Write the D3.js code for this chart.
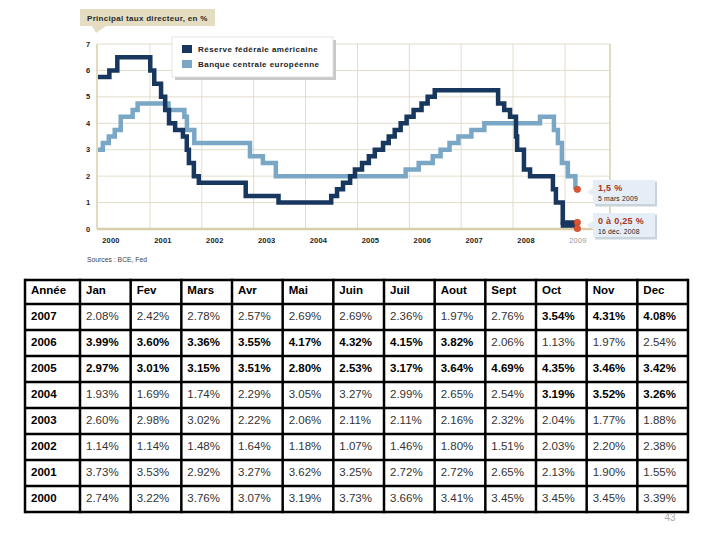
<!DOCTYPE html>
<html>
<head>
<meta charset="utf-8">
<script src="https://cdn.jsdelivr.net/npm/d3@7"></script>
<style>
  html, body { margin: 0; padding: 0; background: #fff; }
  svg { display: block; }
</style>
</head>
<body>
<svg id="chart" width="720" height="540"></svg>
<script>
// ---------- DATA ----------
const fedDates = ["2000-01-01","2000-02-02","2000-03-21","2000-05-16","2001-01-03","2001-01-31","2001-03-20","2001-04-18","2001-05-15","2001-06-27","2001-08-21","2001-09-17","2001-10-02","2001-11-06","2001-12-11","2002-11-06","2003-06-25","2004-06-30","2004-08-10","2004-09-21","2004-11-10","2004-12-14","2005-02-02","2005-03-22","2005-05-03","2005-06-30","2005-08-09","2005-09-20","2005-11-01","2005-12-13","2006-01-31","2006-03-28","2006-05-10","2006-06-29","2007-09-18","2007-10-31","2007-12-11","2008-01-22","2008-01-30","2008-03-18","2008-04-30","2008-10-08","2008-10-29","2008-12-16","2009-03-15"];
const fedRates = [5.75,5.75,6.0,6.5,6.0,5.5,5.0,4.5,4.0,3.75,3.5,3.0,2.5,2.0,1.75,1.25,1.0,1.25,1.5,1.75,2.0,2.25,2.5,2.75,3.0,3.25,3.5,3.75,4.0,4.25,4.5,4.75,5.0,5.25,4.75,4.5,4.25,3.5,3.0,2.25,2.0,1.5,1.0,0.25,0.25];

const ecbDates = ["2000-01-01","2000-02-04","2000-03-17","2000-04-28","2000-06-09","2000-09-01","2000-10-06","2001-05-11","2001-08-31","2001-09-18","2001-11-09","2002-12-06","2003-03-07","2003-06-06","2005-12-06","2006-03-08","2006-06-15","2006-08-09","2006-10-11","2006-12-13","2007-03-14","2007-06-13","2008-07-09","2008-10-15","2008-11-12","2008-12-10","2009-01-21","2009-03-15"];
const ecbRates = [3.0,3.25,3.5,3.75,4.25,4.5,4.75,4.5,4.25,3.75,3.25,2.75,2.5,2.0,2.25,2.5,2.75,3.0,3.25,3.5,3.75,4.0,4.25,3.75,3.25,2.5,2.0,1.5];

const yTicks = [0,1,2,3,4,5,6,7];
const yearTicks = [2000,2001,2002,2003,2004,2005,2006,2007,2008,2009];
const seriesNames = ["Réserve fédérale américaine","Banque centrale européenne"];

const tableYears = [2007,2006,2005,2004,2003,2002,2001,2000];
const tableMonths = ["Jan","Fev","Mars","Avr","Mai","Juin","Juil","Aout","Sept","Oct","Nov","Dec"];
const v2007 = [2.08,2.42,2.78,2.57,2.69,2.69,2.36,1.97,2.76,3.54,4.31,4.08];
const v2006 = [3.99,3.60,3.36,3.55,4.17,4.32,4.15,3.82,2.06,1.13,1.97,2.54];
const v2005 = [2.97,3.01,3.15,3.51,2.80,2.53,3.17,3.64,4.69,4.35,3.46,3.42];
const v2004 = [1.93,1.69,1.74,2.29,3.05,3.27,2.99,2.65,2.54,3.19,3.52,3.26];
const v2003 = [2.60,2.98,3.02,2.22,2.06,2.11,2.11,2.16,2.32,2.04,1.77,1.88];
const v2002 = [1.14,1.14,1.48,1.64,1.18,1.07,1.46,1.80,1.51,2.03,2.20,2.38];
const v2001 = [3.73,3.53,2.92,3.27,3.62,3.25,2.72,2.72,2.65,2.13,1.90,1.55];
const v2000 = [2.74,3.22,3.76,3.07,3.19,3.73,3.66,3.41,3.45,3.45,3.45,3.39];
const tableValues = [v2007,v2006,v2005,v2004,v2003,v2002,v2001,v2000];
const boldMonths = [[9,10,11],[0,1,2,3,4,5,6,7],[0,1,2,3,4,5,6,7,8,9,10,11],[9,10,11],[],[],[],[]];

// ---------- CHART ----------
const svg = d3.select("#chart");
const parse = d3.timeParse("%Y-%m-%d");
const L = 97, R = 610, T = 44, B = 229;
const x = d3.scaleTime().domain([parse("2000-01-01"), parse("2009-01-01")]).range([98, 565]);
const y = d3.scaleLinear().domain([0, 7]).range([B, T]);

const FED = "#17375f", ECB = "#7aa7c6", GRID = "#e2ddca", AXIS = "#d8cfaa";
const FONT = "Liberation Sans, Arial, sans-serif";

// title box
svg.append("rect").attr("x", 80).attr("y", 9).attr("width", 135).attr("height", 17).attr("fill", "#e5ddc2");
svg.append("path").attr("d", "M92,26 L106,26 L96,33 Z").attr("fill", "#e5ddc2");
svg.append("text").attr("x", 87).attr("y", 20.5).text("Principal taux directeur, en %")
  .attr("font-family", FONT).attr("font-size", 8).attr("font-weight", "bold")
  .attr("letter-spacing", 0.3).attr("fill", "#2a2a2a");

// gridlines
const g = svg.append("g");
g.selectAll(".hg").data(yTicks.filter(d => d > 0)).join("line")
  .attr("x1", L).attr("x2", R).attr("y1", d => y(d)).attr("y2", d => y(d))
  .attr("stroke", GRID).attr("stroke-width", 1);
g.selectAll(".vg").data(yearTicks.slice(1)).join("line")
  .attr("x1", d => x(new Date(d, 0, 1))).attr("x2", d => x(new Date(d, 0, 1)))
  .attr("y1", T).attr("y2", B).attr("stroke", GRID).attr("stroke-width", 1);
g.append("line").attr("x1", R).attr("x2", R).attr("y1", T).attr("y2", B).attr("stroke", AXIS).attr("stroke-width", 1.5);
g.append("line").attr("x1", L).attr("x2", L).attr("y1", T).attr("y2", B).attr("stroke", AXIS).attr("stroke-width", 1.5);

// y labels
svg.selectAll(".yl").data(yTicks).join("text")
  .attr("x", 88).attr("y", d => y(d) + 2.5).attr("text-anchor", "middle")
  .attr("font-family", FONT).attr("font-size", 7.5).attr("font-weight", "bold")
  .attr("fill", "#222").text(d => d);

// x labels
svg.selectAll(".xl").data(yearTicks).join("text")
  .attr("x", d => x(new Date(d, 0, 1)) + 13).attr("y", 243).attr("text-anchor", "middle")
  .attr("font-family", FONT).attr("font-size", 7.5)
  .attr("font-weight", d => d === 2009 ? "normal" : "bold")
  .attr("letter-spacing", 0.2)
  .attr("fill", d => d === 2009 ? "#999" : "#222").text(d => d);

// lines
const fedData = fedDates.map((d, i) => ({ t: parse(d), v: fedRates[i] }));
const ecbData = ecbDates.map((d, i) => ({ t: parse(d), v: ecbRates[i] }));
const line = d3.line().x(d => x(d.t)).y(d => y(d.v)).curve(d3.curveStepAfter);

svg.append("path").datum(ecbData).attr("d", line).attr("fill", "none")
  .attr("stroke", ECB).attr("stroke-width", 4.5).attr("stroke-linejoin", "miter");
svg.append("path").datum(fedData).attr("d", line).attr("fill", "none")
  .attr("stroke", FED).attr("stroke-width", 4.5).attr("stroke-linejoin", "miter");

// Fed 0 - 0.25 band
const bandStart = fedData[fedData.length - 2], bandEnd = fedData[fedData.length - 1];
svg.append("rect").attr("x", x(bandStart.t) - 2).attr("y", y(bandStart.v))
  .attr("width", x(bandEnd.t) - x(bandStart.t) + 2).attr("height", y(0) - y(bandStart.v)).attr("fill", FED);

// baseline axis
svg.append("line").attr("x1", L).attr("x2", R).attr("y1", B).attr("y2", B).attr("stroke", AXIS).attr("stroke-width", 2.5);

// end dots
const endT = bandEnd.t;
[ecbRates[ecbRates.length - 1], 0.25, 0.02].forEach(v => {
  svg.append("circle").attr("cx", x(endT) + 2).attr("cy", y(v)).attr("r", 3.2)
    .attr("fill", "#dd5530").attr("stroke", "#b73c1f").attr("stroke-width", 0.6);
});

// annotation callouts
function callout(y0, big, small) {
  const gg = svg.append("g");
  gg.append("rect").attr("x", 595).attr("y", y0 + 1.5).attr("width", 62).attr("height", 25).attr("fill", "#c9d3db");
  gg.append("path").attr("d", `M593,${y0} L655,${y0} L655,${y0 + 24} L593,${y0 + 24} L593,${y0 + 16} L587,${y0 + 12} L593,${y0 + 8} Z`)
    .attr("fill", "#e5eef6");
  gg.append("text").attr("x", 598).attr("y", y0 + 10.5).text(big)
    .attr("font-family", FONT).attr("font-size", 9).attr("font-weight", "bold")
    .attr("letter-spacing", 0.3).attr("fill", "#a8331c");
  gg.append("text").attr("x", 598).attr("y", y0 + 21).text(small)
    .attr("font-family", FONT).attr("font-size", 6.8)
    .attr("letter-spacing", 0.2).attr("fill", "#222");
}
callout(180, "1,5 %", "5 mars 2009");
callout(213, "0 à 0,25 %", "16 déc. 2008");

// legend
svg.append("rect").attr("x", 175).attr("y", 40).attr("width", 161).attr("height", 40).attr("fill", "#c8c8c8");
svg.append("rect").attr("x", 172).attr("y", 37).attr("width", 161).attr("height", 40).attr("fill", "#fff").attr("stroke", "#ddd").attr("stroke-width", 0.8);
[FED, ECB].forEach((c, i) => {
  svg.append("rect").attr("x", 182).attr("y", 45 + i * 15).attr("width", 10).attr("height", 8).attr("fill", c);
  svg.append("text").attr("x", 198).attr("y", 52 + i * 15).text(seriesNames[i])
    .attr("font-family", FONT).attr("font-size", 8).attr("font-weight", "bold")
    .attr("letter-spacing", 0.45).attr("fill", "#222");
});

// sources
svg.append("text").attr("x", 87).attr("y", 262).text("Sources : BCE, Fed")
  .attr("font-family", FONT).attr("font-size", 6.8).attr("fill", "#444");

// ---------- TABLE ----------
const tx0 = 25, tx1 = 80, tx2 = 688;
const colW = (tx2 - tx1) / 12;
const colX = [tx0].concat(tableMonths.map((m, i) => tx1 + i * colW));
const rowY = [280, 304];
for (let i = 1; i <= tableYears.length; i++) rowY.push(304 + i * 26);
const tg = svg.append("g");

// header
const header = ["Année"].concat(tableMonths);
tg.selectAll(".th").data(header).join("text")
  .attr("x", (d, i) => colX[i] + 6).attr("y", 293.5).text(d => d)
  .attr("font-family", FONT).attr("font-size", 11.5).attr("font-weight", "bold").attr("fill", "#000");

tableYears.forEach((yr, r) => {
  const top = rowY[r + 1];
  tg.append("text").attr("x", colX[0] + 6).attr("y", top + 16).text(yr)
    .attr("font-family", FONT).attr("font-size", 11.5).attr("font-weight", "bold").attr("fill", "#000");
  tableValues[r].forEach((v, c) => {
    const b = boldMonths[r].includes(c);
    tg.append("text").attr("x", colX[c + 1] + 6).attr("y", top + 16).text(v.toFixed(2) + "%")
      .attr("font-family", FONT).attr("font-size", 11.5).attr("font-weight", b ? "bold" : "normal")
      .attr("fill", b ? "#000" : "#333");
  });
});

// grid lines of table
rowY.forEach(yy => tg.append("line").attr("x1", tx0).attr("x2", tx2).attr("y1", yy).attr("y2", yy)
  .attr("stroke", "#000").attr("stroke-width", 2.5));
colX.concat([tx2]).forEach(xx => tg.append("line").attr("x1", xx).attr("x2", xx).attr("y1", rowY[0] - 1.25).attr("y2", rowY[rowY.length - 1] + 1.25)
  .attr("stroke", "#000").attr("stroke-width", 2.5));

// page number
svg.append("text").attr("x", 670).attr("y", 521).attr("text-anchor", "middle").text("43")
  .attr("font-family", FONT).attr("font-size", 10).attr("fill", "#aaa");
</script>
</body>
</html>
